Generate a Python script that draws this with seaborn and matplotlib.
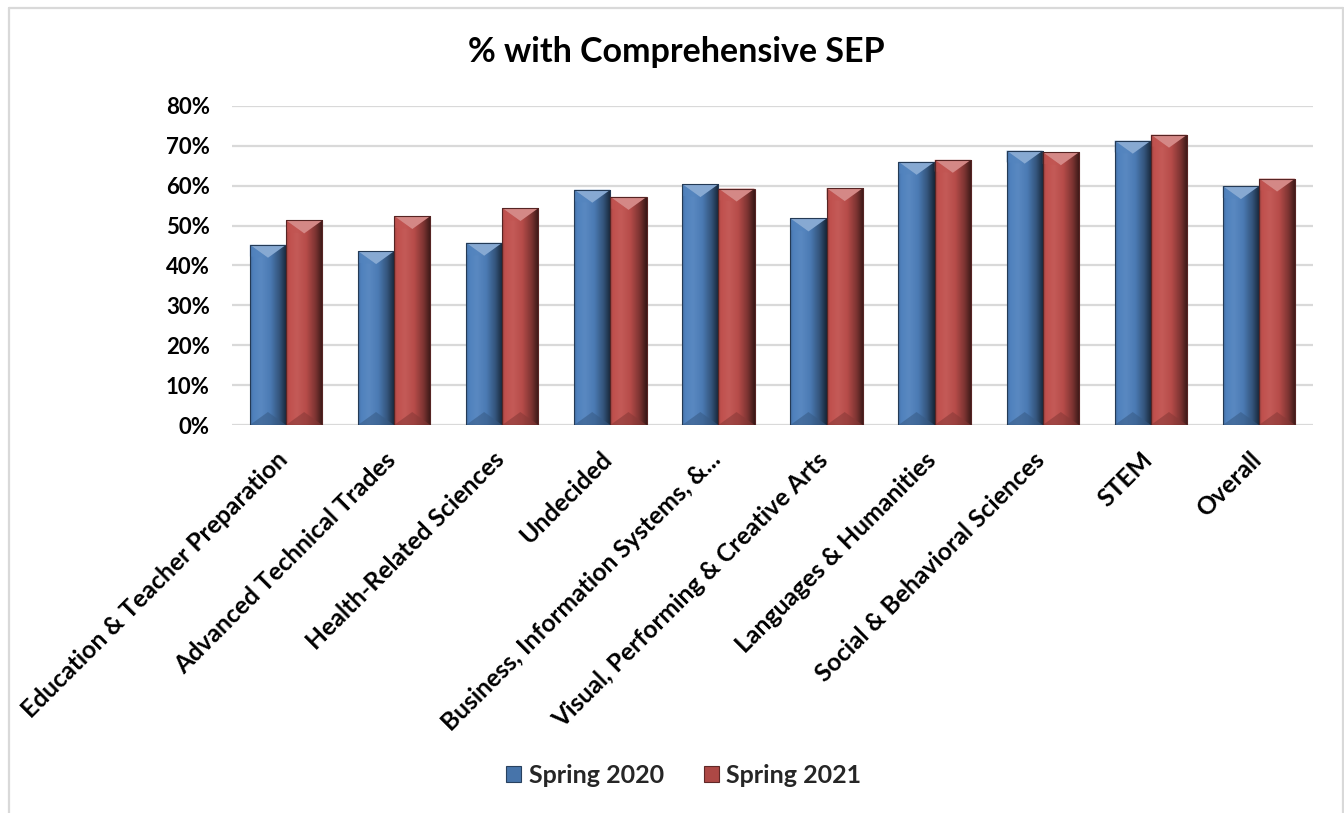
import matplotlib
matplotlib.use("Agg")
import matplotlib.pyplot as plt
import matplotlib.colors as mcolors
import matplotlib.transforms as mtransforms
from matplotlib.patches import Polygon, Rectangle
from matplotlib.lines import Line2D
from matplotlib.ticker import PercentFormatter
import numpy as np
import pandas as pd
import seaborn as sns

# ---- data ----
categories = [
    "Education & Teacher Preparation",
    "Advanced Technical Trades",
    "Health-Related Sciences",
    "Undecided",
    "Business, Information Systems, &...",
    "Visual, Performing & Creative Arts",
    "Languages & Humanities",
    "Social & Behavioral Sciences",
    "STEM",
    "Overall",
]
series_names = ["Spring 2020", "Spring 2021"]
spring_2020 = [0.452, 0.436, 0.457, 0.590, 0.604, 0.518, 0.660, 0.688, 0.713, 0.599]
spring_2021 = [0.513, 0.524, 0.544, 0.572, 0.593, 0.594, 0.665, 0.684, 0.728, 0.618]
y_ticks = [0.0, 0.1, 0.2, 0.3, 0.4, 0.5, 0.6, 0.7, 0.8]

df = pd.DataFrame({
    "category": categories * 2,
    "series": [series_names[0]] * len(categories) + [series_names[1]] * len(categories),
    "value": spring_2020 + spring_2021,
})

base_colors = {"Spring 2020": "#4F81BD", "Spring 2021": "#C0504D"}

sns.set_theme(style="white")
plt.rcParams["font.family"] = ["Lato", "DejaVu Sans"]
plt.rcParams["font.weight"] = "bold"

W, H = 1344, 813
fig = plt.figure(figsize=(W / 100, H / 100), dpi=100)
fig.patch.set_facecolor("white")

ax_left, ax_right, ax_top, ax_bottom = 232, 1313, 106, 425
ax = fig.add_axes([ax_left / W, 1 - ax_bottom / H, (ax_right - ax_left) / W, (ax_bottom - ax_top) / H])

sns.barplot(data=df, x="category", y="value", hue="series", hue_order=series_names,
            order=categories, palette=base_colors, width=0.67, ax=ax,
            legend=False, saturation=1, edgecolor="none", linewidth=0, zorder=2)

ymax = y_ticks[-1]
ax.set_ylim(0, ymax)
ax.set_xlim(-0.5, len(categories) - 0.5)

# pixel-to-data scale for the bevel shapes
px_y = ymax / (ax_bottom - ax_top)


def shade(hex_color, f):
    r, g, b = mcolors.to_rgb(hex_color)
    if f >= 0:
        return (r + (1 - r) * f, g + (1 - g) * f, b + (1 - b) * f)
    return (r * (1 + f), g * (1 + f), b * (1 + f))


# bevelled look: horizontal gradient plus light top and dark bottom chevrons
for container, name in zip(ax.containers, series_names):
    base = base_colors[name]
    stops = [(0.0, shade(base, -0.18)), (0.08, shade(base, 0.0)), (0.3, shade(base, 0.06)),
             (0.55, shade(base, -0.05)), (0.8, shade(base, -0.35)), (1.0, shade(base, -0.72))]
    cmap = mcolors.LinearSegmentedColormap.from_list(name + "_grad", stops)
    grad = np.linspace(0, 1, 256).reshape(1, -1)
    for bar in container:
        x0 = bar.get_x()
        w = bar.get_width()
        h = bar.get_height()
        im = ax.imshow(grad, cmap=cmap, extent=[x0, x0 + w, 0, h], aspect="auto",
                       origin="lower", interpolation="bicubic", zorder=3)
        im.set_clip_path(bar)
        depth = 13 * px_y
        top = Polygon([[x0, h], [x0 + w, h], [x0 + w * 0.5, h - depth]], closed=True,
                      facecolor=shade(base, 0.32), edgecolor="none", zorder=4)
        ax.add_patch(top)
        top_l = Polygon([[x0, h], [x0 + w * 0.5, h - depth], [x0, h - depth * 0.9]], closed=True,
                        facecolor=shade(base, 0.02), edgecolor="none", zorder=4, alpha=0.6)
        ax.add_patch(top_l)
        bot = Polygon([[x0, 0], [x0 + w, 0], [x0 + w * 0.5, depth]], closed=True,
                      facecolor=shade(base, -0.3), edgecolor="none", zorder=4, alpha=0.55)
        ax.add_patch(bot)
        ax.add_patch(Rectangle((x0, 0), w, h, facecolor="none",
                               edgecolor=shade(base, -0.55), linewidth=0.8, zorder=5))

ax.set_ylim(0, ymax)
ax.set_xlim(-0.5, len(categories) - 0.5)

# axes styling
for s in ax.spines.values():
    s.set_visible(False)
ax.set_yticks(y_ticks)
ax.yaxis.set_major_formatter(PercentFormatter(1.0, decimals=0))
ax.grid(axis="y", color="#D9D9D9", linewidth=1.6, zorder=0)
ax.set_axisbelow(True)
ax.tick_params(axis="y", length=0, pad=16, labelsize=16)
ax.tick_params(axis="x", length=0, pad=10, labelsize=17.8)
for lbl in ax.get_yticklabels():
    lbl.set_fontweight("bold")
    lbl.set_color("black")
ax.set_xticks(range(len(categories)))
ax.set_xticklabels(categories, rotation=45, ha="right", rotation_mode="anchor",
                   fontweight="bold", color="black")
# nudge the slanted category labels down and to the left
shift = mtransforms.ScaledTranslation(-10 / 100, -9 / 100, fig.dpi_scale_trans)
for lbl in ax.get_xticklabels():
    lbl.set_transform(lbl.get_transform() + shift)
ax.set_xlabel("")
ax.set_ylabel("")

fig.text(676 / W, 1 - 52 / H, "% with Comprehensive SEP", ha="center", va="center",
         fontsize=24.5, fontweight="bold", color="black")

handles = [Rectangle((0, 0), 1, 1, facecolor=shade(base_colors[n], -0.1),
                     edgecolor=shade(base_colors[n], -0.5), linewidth=0.8) for n in series_names]
leg = fig.legend(handles, series_names, loc="center", bbox_to_anchor=(684 / W, 1 - 775 / H),
                 ncol=2, frameon=False, prop={"weight": "bold", "size": 18},
                 handlelength=0.6, handleheight=0.6, handletextpad=0.3, columnspacing=1.6)

# outer chart frame
frame_c = "#D9D9D9"
fig.add_artist(Line2D([8.5 / W, 8.5 / W], [0, 1 - 8.5 / H], color=frame_c, lw=1.6))
fig.add_artist(Line2D([8.5 / W, 1342.5 / W], [1 - 8.5 / H, 1 - 8.5 / H], color=frame_c, lw=1.6))
fig.add_artist(Line2D([1342.5 / W, 1342.5 / W], [0, 1 - 8.5 / H], color=frame_c, lw=1.6))

fig.savefig("out.png", dpi=100, facecolor="white")
